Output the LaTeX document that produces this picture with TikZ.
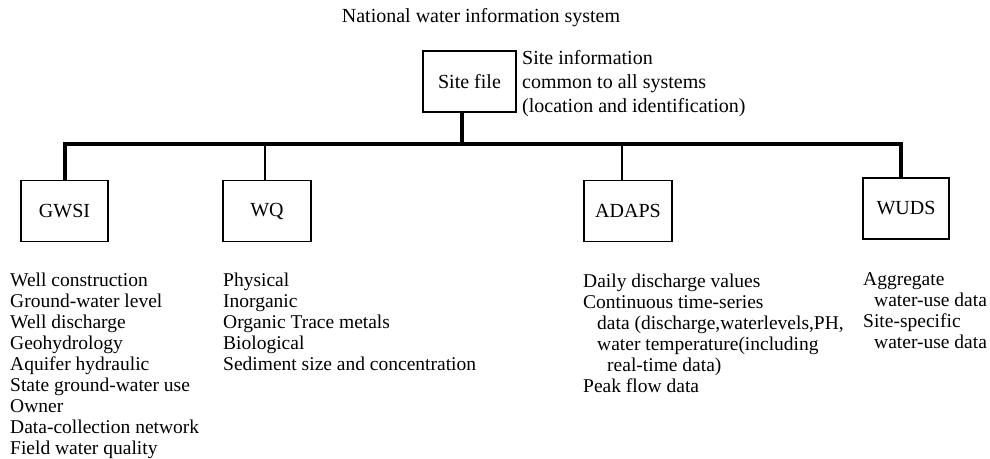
\documentclass[tikz,border=0pt]{standalone}
\usepackage{fontspec}
\setmainfont{Liberation Serif}
\usetikzlibrary{positioning}

\begin{document}
\begin{tikzpicture}[
  x=1pt, y=-1pt,
  box/.style={draw, line width=1.3pt, minimum width=87pt, minimum height=61pt,
              inner sep=0pt, font=\fontsize{20}{22}\selectfont},
  bus/.style={line width=3.5pt},
  stem/.style={line width=1.1pt},
  list/.style={anchor=north west, align=left, inner sep=0pt,
               font=\fontsize{19.5}{21}\selectfont}
]
  \useasboundingbox (0,0) rectangle (990,458);

  \node[anchor=base, font=\fontsize{20}{22}\selectfont] (title) at (481,22)
    {National water information system};

  \node[box, minimum width=93pt] (site) at (469.5,81.5) {Site file};
  \node[list, font=\fontsize{20}{24}\selectfont] (siteinfo) at (522,50)
    {Site information\\common to all systems\\(location and identification)};

  \node[box] (gwsi) at (64.5,211) {GWSI};
  \node[box, minimum width=88pt] (wq) at (267,211) {WQ};
  \node[box, minimum width=88pt] (adaps) at (628,211) {ADAPS};
  \node[box, minimum width=86pt] (wuds) at (906,208.5) {WUDS};

  % bus line and stems
  \coordinate (rail) at (0,144);
  \coordinate (stop) at ([xshift=-7.5pt]site.south);
  \coordinate (gtop) at ([xshift=0.5pt]gwsi.north);
  \coordinate (qtop) at ([xshift=-2pt]wq.north);
  \coordinate (atop) at ([xshift=-6pt]adaps.north);
  \coordinate (wtop) at ([xshift=-5pt]wuds.north);
  \draw[bus] (gtop) -- (gtop |- rail) -- (wtop |- rail) -- (wtop);
  \draw[bus] (stop) -- (stop |- rail);
  \draw[stem] (qtop) -- (qtop |- rail);
  \draw[stem] (atop) -- (atop |- rail);

  % contents of each system
  \node[list] (gwsilist) at (10,272.7)
    {Well construction\\Ground-water level\\Well discharge\\Geohydrology\\
     Aquifer hydraulic\\State ground-water use\\Owner\\Data-collection network\\
     Field water quality};
  \node[list] (wqlist) at (223,272.7)
    {Physical\\Inorganic\\Organic Trace metals\\Biological\\
     Sediment size and concentration};
  \node[list] (adapslist) at (583,273.7)
    {Daily discharge values\\Continuous time-series\\
     \hspace*{14pt}data (discharge,waterlevels,PH,\\
     \hspace*{14pt}water temperature(including\\
     \hspace*{24pt}real-time data)\\Peak flow data};
  \node[list] (wudslist) at (863,272.7)
    {Aggregate\\\hspace*{11pt}water-use data\\Site-specific\\\hspace*{11pt}water-use data};
\end{tikzpicture}
\end{document}
